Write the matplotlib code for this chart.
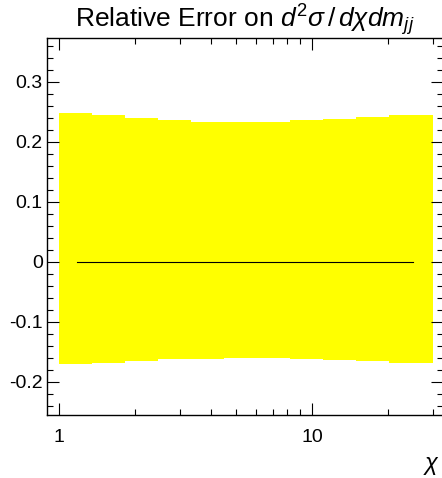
import numpy as np
import matplotlib
matplotlib.use("Agg")
import matplotlib.pyplot as plt

plt.rcParams['font.family'] = ['Liberation Sans', 'DejaVu Sans']
plt.rcParams['mathtext.fontset'] = 'custom'
plt.rcParams['mathtext.rm'] = 'Liberation Sans'
plt.rcParams['mathtext.it'] = 'Liberation Sans:italic'

# chi bin edges and relative error band
granice_chi = [1, 1.35, 1.82, 2.46, 3.32, 4.48, 6.05, 8.17, 11.02, 14.88, 20.09, 30]
blad_gora = [0.248, 0.2445, 0.240, 0.236, 0.2333, 0.2333, 0.2333, 0.236, 0.238, 0.241, 0.2445]
blad_dol = [-0.170, -0.169, -0.1655, -0.163, -0.163, -0.160, -0.160, -0.163, -0.1643, -0.166, -0.169]

granice = np.array(granice_chi)
srodki = (granice[:-1] + granice[1:]) / 2
zera = np.zeros(len(srodki))

rysunek = plt.figure(figsize=(4.42, 4.78), dpi=100)
os_ = rysunek.add_axes([47 / 442, 1 - 415 / 478, 396 / 442, (415 - 38.3) / 478])

os_.stairs(blad_gora, granice, baseline=blad_dol, fill=True, color='#ffff00', lw=0)
os_.plot(srodki, zera, color='black', lw=0.8)

os_.set_xscale('log')
x_min = 10 ** ((47 - 59) / 253)
x_max = 10 ** ((443 - 59) / 253)
os_.set_xlim(x_min, x_max)
os_.set_ylim(-0.2555, 0.3723)

os_.set_xticks([1, 10])
os_.set_xticklabels(['1', '10'])
os_.set_xticks([2, 3, 4, 5, 6, 7, 8, 9, 20, 30], minor=True)
os_.xaxis.set_minor_formatter(matplotlib.ticker.NullFormatter())

os_.set_yticks([-0.2, -0.1, 0, 0.1, 0.2, 0.3])
os_.set_yticklabels(['-0.2', '-0.1', '0', '0.1', '0.2', '0.3'])
os_.yaxis.set_minor_locator(matplotlib.ticker.MultipleLocator(0.02))

os_.tick_params(which='both', direction='in', top=True, right=True, width=0.8, labelsize=14)
os_.tick_params(which='major', length=8.5)
os_.tick_params(which='minor', length=4.3)
os_.tick_params(axis='x', which='major', pad=10)
os_.tick_params(axis='y', which='major', pad=3)

for bok in os_.spines.values():
    bok.set_linewidth(1.0)

os_.set_title(r'Relative Error on $d^2\sigma\,/\,d\chi dm_{jj}$', fontsize=19, pad=6)
rysunek.text(431 / 442, 0.002, r'$\chi$', fontsize=17, ha='center', va='bottom')

rysunek.savefig('out.png', dpi=100)
